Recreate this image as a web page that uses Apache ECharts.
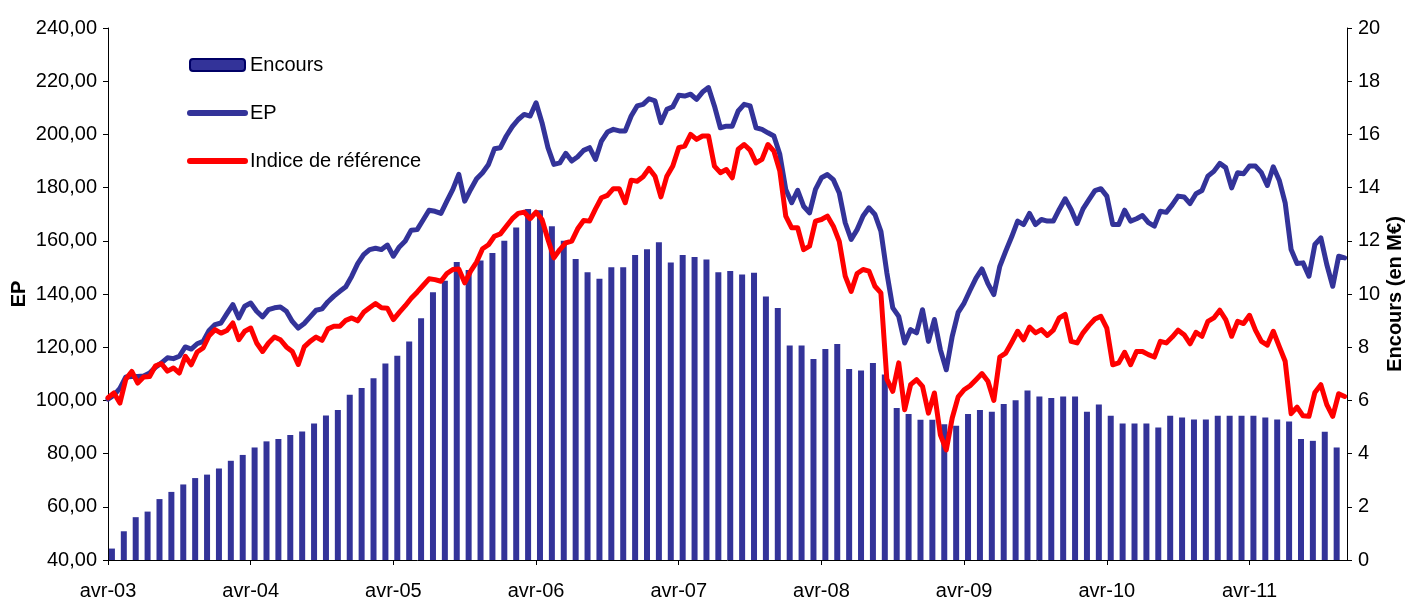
<!DOCTYPE html>
<html>
<head>
<meta charset="utf-8">
<script src="https://cdn.jsdelivr.net/npm/echarts@6/dist/echarts.min.js"></script>
<style>
  html, body { margin: 0; padding: 0; background: #fff; }
  #chart { width: 1405px; height: 598px; }
</style>
</head>
<body>
<div id="chart"></div>
<script>
// x axis works in months counted from avr-03
const yearLabels = ['avr-03', 'avr-04', 'avr-05', 'avr-06', 'avr-07', 'avr-08', 'avr-09', 'avr-10', 'avr-11'];

// monthly outstanding (M€), avr-03 .. nov-11
const encours = [
  0.43, 1.08, 1.61, 1.82, 2.29, 2.56, 2.84, 3.08, 3.21, 3.44, 3.73, 3.95,
  4.23, 4.46, 4.55, 4.70, 4.83, 5.13, 5.43, 5.64, 6.21, 6.47, 6.83, 7.39,
  7.68, 8.21, 9.09, 10.07, 10.5, 11.2, 10.9, 11.26, 11.54, 12.0, 12.5, 13.2,
  13.15, 12.55, 12.0, 11.32, 10.82, 10.57, 11.01, 11.01, 11.47, 11.68, 11.95, 11.18,
  11.47, 11.39, 11.30, 10.82, 10.86, 10.73, 10.80, 9.91, 9.47, 8.06, 8.06, 7.56,
  7.93, 8.12, 7.18, 7.12, 7.41, 6.97, 5.71, 5.49, 5.27, 5.27, 5.1, 5.05,
  5.49, 5.64, 5.57, 5.86, 6.01, 6.37, 6.15, 6.09, 6.15, 6.15, 5.57, 5.85,
  5.42, 5.13, 5.13, 5.13, 4.98, 5.42, 5.36, 5.28, 5.28, 5.42, 5.42, 5.42,
  5.42, 5.36, 5.28, 5.21, 4.55, 4.48, 4.82, 4.23
];

// EP and benchmark, one reading every half month from avr-03
const ep = [
  100.5, 102, 104.5, 108.8, 109, 109, 109.2, 110.3, 112.5, 114.1, 116, 115.7,
  116.6, 120.1, 119.3, 121.3, 122.2, 126.3, 128.5, 129.1, 132.6, 136, 131, 135.4,
  136.6, 133.5, 131.4, 134.1, 134.8, 135.1, 133.5, 129.7, 127.2, 128.9, 131.4, 133.9,
  134.4, 137.1, 139.2, 141, 142.7, 146.7, 151.4, 154.8, 156.7, 157.2, 156.7, 158.4,
  154.2, 157.7, 159.9, 164, 164.2, 167.8, 171.5, 171.1, 170.3, 174.9, 179.3, 185,
  174.9, 179.3, 183.3, 185.6, 188.7, 194.6, 195, 199.4, 202.9, 205.6, 207.5, 206.9,
  211.9, 204.4, 195, 188.7, 189.3, 192.9, 190, 191.6, 194, 195, 190.6, 197.5,
  200.9, 201.9, 201.3, 201.3, 206.9, 210.7, 211.3, 213.4, 212.6, 204.4, 209.4, 210.4,
  214.7, 214.4, 215.1, 213.2, 215.9, 217.6, 210.7, 202.5, 203.1, 203.1, 208.8, 211.3,
  210.7, 202.5, 201.9, 200.6, 199.4, 192.5, 179.3, 174.3, 179, 173, 170.5, 179.3,
  183.7, 184.9, 183, 178, 166.8, 160.5, 164.2, 169.3, 172.4, 169.9, 163.6, 148,
  134.8, 131.6, 121.6, 126.6, 125.4, 134.1, 122.2, 130.4, 119.1, 111.5, 124.1, 133.1,
  136.6, 141.4, 146, 149.4, 143.9, 139.8, 150.4, 156.1, 161.5, 167.4, 166.1, 170.3,
  166.1, 168, 167.4, 167.4, 171.8, 175.8, 171.8, 166.5, 172, 175.5, 178.9, 179.6,
  176.8, 166.1, 166.1, 171.5, 167.4, 168.3, 169.5, 166.8, 165.5, 171.1, 170.7, 173.5,
  176.8, 176.5, 174, 177.7, 178.9, 184.3, 186.1, 189.1, 187.5, 179.9, 185.6, 185.2,
  188.1, 188.1, 185.6, 180.8, 187.8, 182.8, 174.3, 156.7, 151.5, 151.7, 146.7, 158.6,
  161.1, 151.1, 142.9, 154.2, 153.6
];

const indice = [
  101, 102.8, 99, 108, 110.9, 106.5, 108.8, 109, 113, 113.8, 111, 112.2,
  110.3, 116.6, 113.4, 118.2, 119.7, 124.3, 126.6, 125.3, 126.3, 129.1, 122.8, 126,
  127.2, 121.6, 118.4, 121.6, 123.8, 122.8, 120.1, 118.4, 113.5, 120.1, 122.2, 123.8,
  122.6, 126.9, 127.9, 127.9, 130.1, 131, 129.9, 133.1, 134.8, 136.4, 134.8, 134.6,
  130.4, 133.1, 135.6, 138.4, 140.7, 143.2, 145.7, 145.4, 144.8, 147.7, 149.2, 149.4,
  144.2, 148.6, 152, 157, 158.5, 161.7, 162.6, 165.5, 168.3, 170.3, 170.8, 168.3,
  170.8, 168, 160.5, 153.6, 156.7, 159.2, 159.9, 164.5, 167.6, 167.4, 172, 176.2,
  177.1, 179.6, 179.6, 174.3, 182.8, 182.4, 184.1, 187.2, 184.3, 176.5, 184.3, 188.1,
  195, 195.6, 200, 198.1, 199.4, 199.4, 188.1, 185.6, 186.8, 183.7, 194.4, 196.2,
  194.1, 189.3, 190.6, 196.2, 193.7, 186.2, 169.3, 164.9, 164.9, 156.7, 158, 167.4,
  168, 169.3, 165.5, 159.8, 146.7, 141, 147.7, 149.2, 148.6, 142.9, 140.4, 108,
  103.4, 114.1, 96.5, 105.9, 107.8, 105.3, 95.2, 102.8, 87.1, 81.4, 93.4, 101.3,
  104, 105.5, 107.8, 110.1, 107.2, 100, 116.3, 117.8, 121.8, 126, 122.8, 127.6,
  125.4, 126.6, 124.4, 126.4, 131, 132.3, 122.2, 121.6, 125.4, 128.2, 130.6, 131.6,
  127.2, 113.4, 114.1, 118.1, 113.4, 118.4, 118.4, 117.2, 116.3, 122.2, 121.6, 123.8,
  126.4, 124.7, 121.3, 125.6, 124.1, 129.7, 131, 133.9, 130.4, 124.1, 129.7, 128.9,
  132, 126.4, 122.2, 120.8, 126, 120.3, 114.7, 95, 97.5, 94.2, 94, 103,
  105.9, 98.4, 94, 102.5, 101.5
];

const BLUE = '#333399';
const RED = '#ff0000';
const FONT = 'Liberation Sans';

// bars sit a third of a month to the right of their month start
const barShift = 0.33;
const halfMonth = 0.5;

const barData = encours.map((v, k) => [k + barShift, v]);
const epData = ep.map((v, k) => [k * halfMonth, v]);
const indiceData = indice.map((v, k) => [k * halfMonth, v]);
const yearTicks = yearLabels.map((_, k) => k * 12);

const chart = echarts.init(document.getElementById('chart'));

chart.setOption({
  animation: false,
  backgroundColor: '#fff',
  textStyle: { fontFamily: FONT },
  grid: { left: 108, right: 58, top: 28, bottom: 38, outerBoundsMode: 'none' },
  legend: {
    orient: 'vertical',
    left: 187,
    top: 55,
    padding: 0,
    itemWidth: 55,
    itemHeight: 12,
    itemGap: 28,
    textStyle: { fontFamily: FONT, fontSize: 20, color: '#000', lineHeight: 20 },
    data: [
      { name: 'Encours', icon: 'roundRect', itemStyle: { color: BLUE, borderColor: '#000066', borderWidth: 2 } },
      { name: 'EP', itemStyle: { opacity: 0 }, lineStyle: { width: 6, cap: 'round' } },
      { name: 'Indice de référence', itemStyle: { opacity: 0 }, lineStyle: { width: 6, cap: 'round' } }
    ]
  },
  xAxis: {
    type: 'value',
    min: 0,
    max: 104.2,
    interval: 12,
    splitLine: { show: false },
    axisLine: { lineStyle: { color: '#000', width: 1 } },
    axisTick: { length: 5, lineStyle: { color: '#000' }, customValues: yearTicks },
    axisLabel: {
      customValues: yearTicks,
      margin: 21,
      fontSize: 20,
      fontFamily: FONT,
      color: '#000',
      formatter: v => yearLabels[Math.round(v / 12)] || ''
    }
  },
  yAxis: [
    {
      type: 'value',
      min: 40,
      max: 240,
      interval: 20,
      name: 'EP',
      nameLocation: 'middle',
      nameRotate: 90,
      nameGap: 79,
      nameMoveOverlap: false,
      nameTextStyle: { fontFamily: FONT, fontSize: 20, fontWeight: 'bold', color: '#000' },
      splitLine: { show: false },
      axisLine: { show: true, lineStyle: { color: '#000', width: 1 } },
      axisTick: { show: true, length: 5, lineStyle: { color: '#000' } },
      axisLabel: {
        margin: 11,
        fontSize: 20,
        fontFamily: FONT,
        color: '#000',
        formatter: v => v.toFixed(2).replace('.', ',')
      }
    },
    {
      type: 'value',
      min: 0,
      max: 20,
      interval: 2,
      position: 'right',
      name: 'Encours (en M€)',
      nameLocation: 'middle',
      nameRotate: 90,
      nameGap: 38,
      nameMoveOverlap: false,
      nameTextStyle: { fontFamily: FONT, fontSize: 20, fontWeight: 'bold', color: '#000' },
      splitLine: { show: false },
      axisLine: { show: true, lineStyle: { color: '#000', width: 1 } },
      axisTick: { show: true, length: 5, lineStyle: { color: '#000' } },
      axisLabel: { margin: 11, fontSize: 20, fontFamily: FONT, color: '#000' }
    }
  ],
  series: [
    {
      name: 'Encours',
      type: 'bar',
      yAxisIndex: 1,
      barWidth: 6,
      itemStyle: { color: BLUE },
      data: barData,
      z: 1
    },
    {
      name: 'EP',
      type: 'line',
      yAxisIndex: 0,
      symbol: 'none',
      lineStyle: { color: BLUE, width: 5, cap: 'round', join: 'round' },
      itemStyle: { color: BLUE },
      data: epData,
      z: 2
    },
    {
      name: 'Indice de référence',
      type: 'line',
      yAxisIndex: 0,
      symbol: 'none',
      lineStyle: { color: RED, width: 5, cap: 'round', join: 'round' },
      itemStyle: { color: RED },
      data: indiceData,
      z: 3
    }
  ]
});
</script>
</body>
</html>
